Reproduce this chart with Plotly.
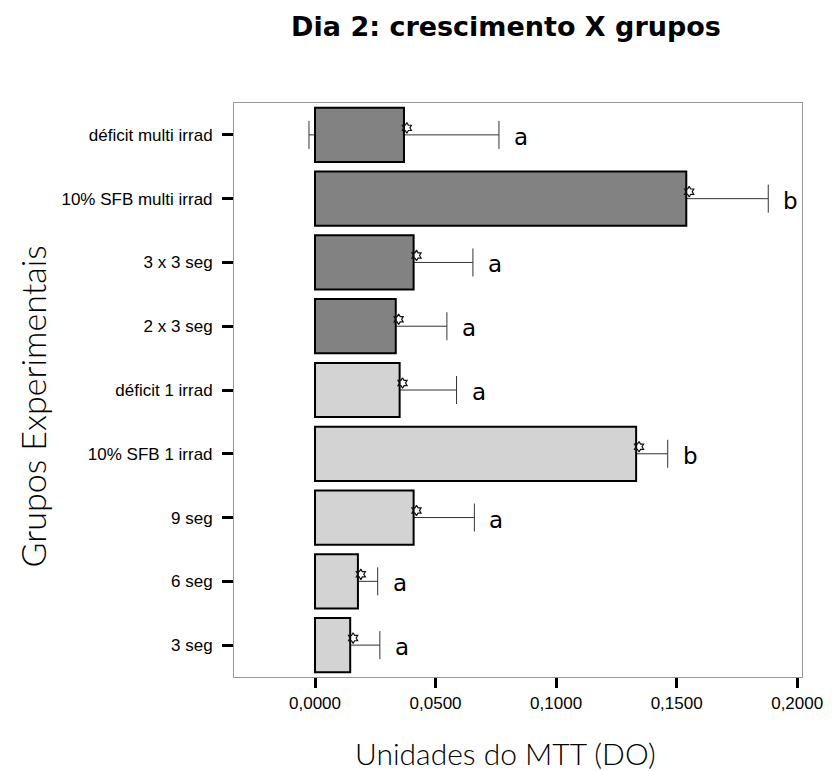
import plotly.graph_objects as go

categories = ["déficit multi irrad", "10% SFB multi irrad", "3 x 3 seg", "2 x 3 seg",
              "déficit 1 irrad", "10% SFB 1 irrad", "9 seg", "6 seg", "3 seg"]
means = [0.0369, 0.1540, 0.0409, 0.0335, 0.0351, 0.1332, 0.0409, 0.0178, 0.0146]
errors = [0.0394, 0.0340, 0.0246, 0.0212, 0.0236, 0.0131, 0.0252, 0.0082, 0.0123]
letters = ["a", "b", "a", "a", "a", "b", "a", "a", "a"]
groups = ["multi", "multi", "multi", "multi", "single", "single", "single", "single", "single"]
x_ticks = [0.0, 0.05, 0.10, 0.15, 0.20]
x_ticktext = ["0,0000", "0,0500", "0,1000", "0,1500", "0,2000"]

color_map = {"multi": "#828282", "single": "#d3d3d3"}
pos = list(range(len(categories)))

fig = go.Figure()

# error bars (drawn beneath the bars)
fig.add_trace(go.Bar(
    x=means, y=pos, orientation="h", width=0.85,
    marker=dict(color="rgba(0,0,0,0)", line=dict(width=0)),
    error_x=dict(type="data", array=errors, visible=True, color="#333333",
                 thickness=1, width=14),
    hoverinfo="skip", showlegend=False,
))
# bars
fig.add_trace(go.Bar(
    x=means, y=pos, orientation="h", width=0.85,
    marker=dict(color=[color_map[g] for g in groups], line=dict(color="black", width=2)),
    showlegend=False,
))
# small markers at bar ends
fig.add_trace(go.Scatter(
    x=[m + 0.0012 for m in means], y=[p - 0.11 for p in pos], mode="markers",
    marker=dict(symbol="hexagram-open", size=8, color="#111111",
                line=dict(width=1.2, color="#111111")),
    showlegend=False, hoverinfo="skip",
))

annotations = []
for m, e, p, l in zip(means, errors, pos, letters):
    annotations.append(dict(x=m + e, y=p, xref="x", yref="y", text=l, showarrow=False,
                            xanchor="left", yanchor="middle", xshift=13, yshift=-2,
                            font=dict(family="DejaVu Sans", size=23, color="black")))

annotations.append(dict(x=0.478, y=-0.133, xref="paper", yref="paper",
                        text="Unidades do MTT (DO)", showarrow=False,
                        xanchor="center", yanchor="middle",
                        font=dict(family="Lato", size=30, color="black", weight=300)))
annotations.append(dict(x=-0.355, y=0.472, xref="paper", yref="paper",
                        text="Grupos Experimentais", showarrow=False, textangle=-90,
                        xanchor="center", yanchor="middle",
                        font=dict(family="Lato", size=34, color="black", weight=300)))

fig.update_layout(
    width=835, height=771,
    margin=dict(l=234, r=26, t=103, b=94),
    paper_bgcolor="white", plot_bgcolor="white",
    barmode="overlay",
    title=dict(text="<b>Dia 2: crescimento X grupos</b>", x=0.606, y=1 - 27 / 771,
               xanchor="center", yanchor="middle",
               font=dict(family="DejaVu Sans", size=27, color="black")),
    annotations=annotations,
    xaxis=dict(range=[-0.0336, 0.2020], tickvals=x_ticks, ticktext=x_ticktext,
               showgrid=False, zeroline=False, showline=True, linecolor="#999999",
               linewidth=1, mirror=True, ticks="outside", ticklen=10, tickwidth=3,
               tickcolor="black", tickfont=dict(family="Arial", size=17, color="black"),
               ticklabelstandoff=1),
    yaxis=dict(range=[len(categories) - 0.5, -0.5], tickvals=pos, ticktext=categories,
               showgrid=False, zeroline=False, showline=True, linecolor="#999999",
               linewidth=1, mirror=True, ticks="outside", ticklen=11, tickwidth=3,
               tickcolor="black", tickfont=dict(family="Arial", size=17, color="black"),
               ticklabelstandoff=6),
)

fig.write_html("out.html")
